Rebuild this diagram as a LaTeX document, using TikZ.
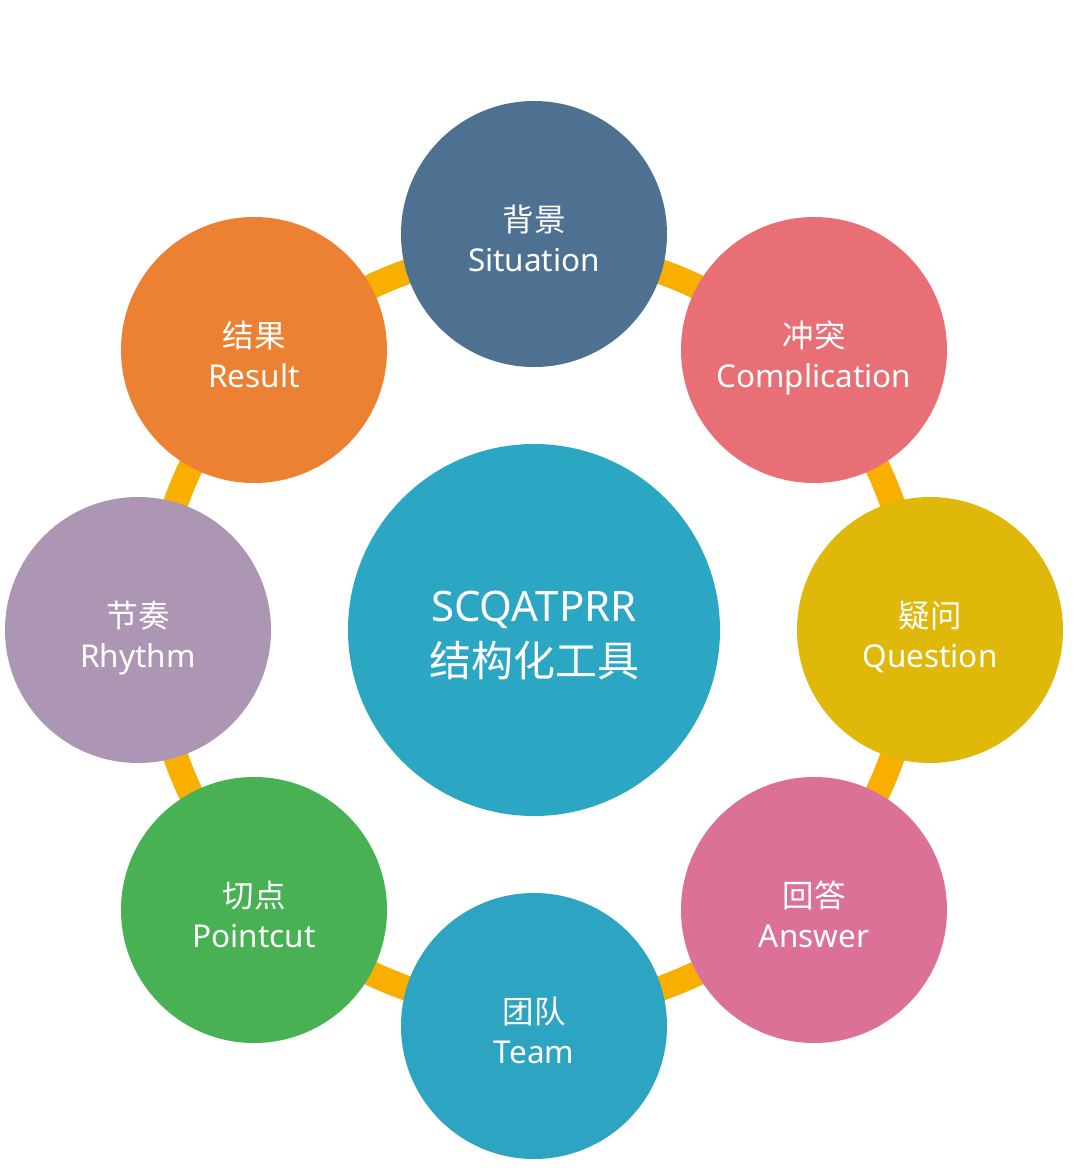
\documentclass[tikz,border=0pt]{standalone}
\usepackage{fontspec}
\setmainfont{Noto Sans}
\newfontfamily\cjk{Noto Sans CJK SC}
\definecolor{ringc}{HTML}{F9AF00}
\definecolor{cSit}{HTML}{4E7192}
\definecolor{cCom}{HTML}{E96F76}
\definecolor{cQue}{HTML}{E0B80A}
\definecolor{cAns}{HTML}{DC7198}
\definecolor{cTea}{HTML}{2CA4C2}
\definecolor{cPoi}{HTML}{47B154}
\definecolor{cRhy}{HTML}{AC96B4}
\definecolor{cRes}{HTML}{EC8133}
\definecolor{cCen}{HTML}{2BA6C3}
\begin{document}
\begin{tikzpicture}[x=1pt,y=-1pt,
  bub/.style={circle,inner sep=0pt,minimum size=266pt,fill=#1},
  ring/.style={line width=25pt,draw=ringc},
  cn/.style={font=\cjk\fontsize{31.5}{31.5}\selectfont,text=white,anchor=base,inner sep=0pt},
  en/.style={font=\fontsize{31.5}{31.5}\selectfont,text=white,anchor=base,inner sep=0pt},
  cnbig/.style={font=\cjk\fontsize{42}{42}\selectfont,text=white,anchor=base,inner sep=0pt},
  enbig/.style={font=\fontsize{42}{42}\selectfont,text=white,anchor=base,inner sep=0pt}]
\useasboundingbox (0,0) rectangle (1080,1171);
\fill[white] (0,0) rectangle (1080,1171);
\coordinate (o) at (534,630);
\draw[ring] (o) circle (380pt);
\node[circle,inner sep=0pt,minimum size=372pt,fill=cCen] (cen) at (o) {};
\node[bub=cSit] (sit) at (534,234) {};
\node[bub=cCom] (com) at (814,350) {};
\node[bub=cQue] (que) at (930,630) {};
\node[bub=cAns] (ans) at (814,910) {};
\node[bub=cTea] (tea) at (534,1026) {};
\node[bub=cPoi] (poi) at (254,910) {};
\node[bub=cRhy] (rhy) at (138,630) {};
\node[bub=cRes] (res) at (254,350) {};
% labels
\foreach \n/\c/\e in {sit/背景/Situation, com/冲突/Complication, que/疑问/Question,
  ans/回答/Answer, tea/团队/Team, poi/切点/Pointcut, rhy/节奏/Rhythm, res/结果/Result}{
  \node[cn] (\n-cn) at ([yshift=3pt]\n.center) {\c};
  \node[en] (\n-en) at ([yshift=-37pt]\n.center) {\e};
}
\node[enbig] (cen-en) at ([yshift=9pt]cen.center) {SCQATPRR};
\node[cnbig] (cen-cn) at ([yshift=-46pt]cen.center) {结构化工具};
\end{tikzpicture}
\end{document}
